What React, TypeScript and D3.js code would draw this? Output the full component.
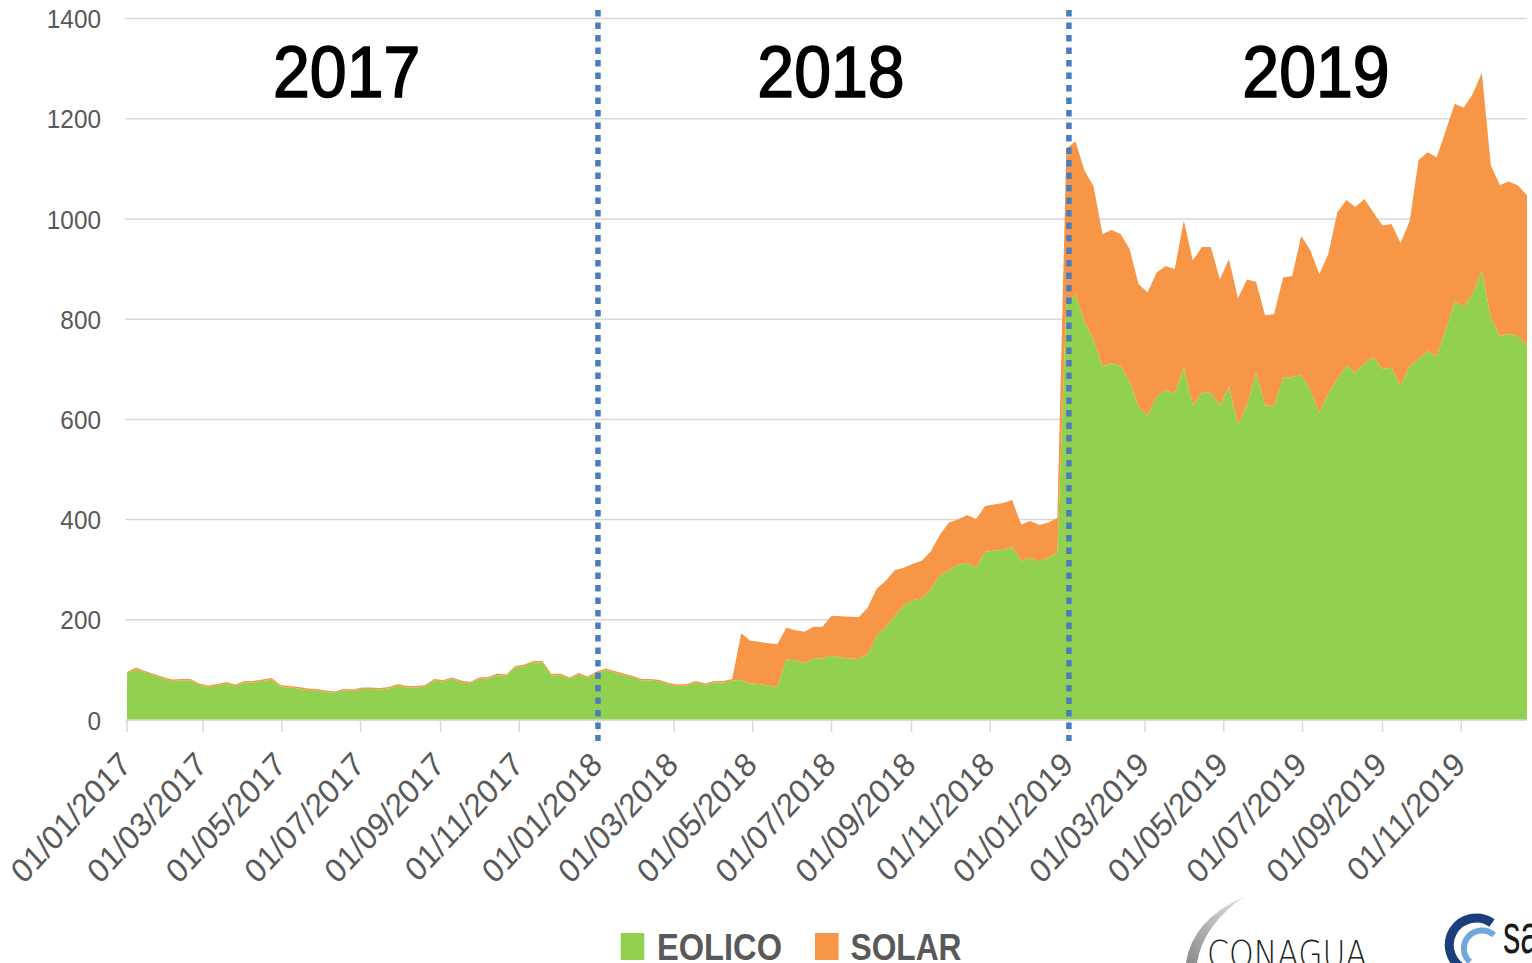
import React from "react";
import * as d3 from "d3";

// Weekly series starting on this date
const START_DATE = new Date(2017, 0, 1);

const EOLICO = [
  93, 102, 95, 89, 83, 78, 79, 79, 70, 66,
  69, 73, 68, 75, 75, 78, 81, 67, 65, 63,
  60, 59, 56, 54, 59, 58, 62, 62, 61, 63,
  69, 65, 65, 67, 79, 77, 82, 76, 73, 82,
  83, 90, 88, 105, 108, 115, 115, 89, 90, 82,
  91, 84, 94, 100, 95, 90, 85, 79, 79, 77,
  71, 68, 69, 75, 70, 75, 75, 79, 80, 73,
  72, 69, 66, 122, 119, 114, 124, 123, 128, 125,
  123, 122, 131, 168, 185, 208, 229, 239, 243, 261,
  289, 299, 310, 314, 305, 336, 338, 340, 346, 317,
  324, 317, 324, 336, 830, 850, 795, 760, 706, 712,
  706, 676, 625, 608, 646, 658, 652, 704, 628, 653,
  653, 628, 666, 590, 628, 692, 628, 627, 683, 684,
  689, 659, 613, 652, 680, 707, 694, 712, 724, 701,
  703, 667, 706, 721, 736, 726, 780, 835, 825, 852,
  897, 804, 766, 771, 766, 748,
];

const SOLAR = [
  3, 3, 3, 3, 3, 3, 3, 3, 3, 3,
  3, 3, 3, 3, 3, 3, 3, 3, 3, 3,
  3, 3, 3, 3, 3, 3, 3, 3, 3, 3,
  3, 3, 3, 3, 3, 3, 3, 3, 3, 3,
  3, 3, 3, 3, 3, 3, 3, 3, 3, 3,
  3, 3, 3, 3, 3, 3, 3, 3, 3, 3,
  3, 3, 3, 3, 3, 3, 3, 3, 93, 85,
  84, 84, 85, 62, 60, 62, 62, 63, 80, 82,
  83, 83, 93, 94, 93, 91, 75, 73, 75, 76,
  81, 95, 90, 95, 96, 91, 92, 93, 93, 73,
  73, 72, 70, 67, 310, 305, 302, 306, 264, 266,
  264, 264, 245, 246, 247, 248, 248, 293, 289, 291,
  291, 251, 254, 252, 251, 183, 180, 183, 200, 202,
  277, 279, 277, 278, 333, 331, 330, 328, 289, 286,
  287, 285, 289, 397, 397, 397, 396, 395, 397, 398,
  395, 303, 302, 304, 301, 299,
];

const SERIES_NAMES = ["EOLICO", "SOLAR"];
const SERIES_COLORS = ["#92D050", "#F79646"];
const Y_TICKS = [0, 200, 400, 600, 800, 1000, 1200, 1400];
const YEAR_TITLES = ["2017", "2018", "2019"];
const DIVIDER_DATES = [new Date(2018, 0, 1), new Date(2019, 0, 1)];

const FONT = "'Liberation Sans', Arial, sans-serif";
const SQ = 0.92;

export default function App() {
  const W = 1532;
  const H = 963;
  const dates = EOLICO.map((_, i) => d3.timeDay.offset(START_DATE, 7 * i));
  const last = dates[dates.length - 1];
  const x = d3.scaleTime().domain([START_DATE, last]).range([127, 1527]);
  const y = d3.scaleLinear().domain([0, 1400]).range([720, 18.6]);

  const rows = dates.map((d, i) => ({ date: d, EOLICO: EOLICO[i], SOLAR: SOLAR[i] }));
  const stacked = d3.stack<any>().keys(SERIES_NAMES)(rows);
  const area = d3
    .area<any>()
    .x((d) => x(d.data.date))
    .y0((d) => y(d[0]))
    .y1((d) => y(d[1]))
    .curve(d3.curveLinear);

  const xTicks = d3.timeMonth.every(2)!.range(START_DATE, last);
  const fmt = d3.timeFormat("%d/%m/%Y");
  const titleX = [346.7, 831, 1316];

  return (
    <svg
      width={W}
      height={H}
      style={{ position: "absolute", left: 0, top: 0, background: "#fff" }}
      fontFamily={FONT}
    >
      <rect x={0} y={0} width={W} height={H} fill="#fff" />
      {/* gridlines */}
      {Y_TICKS.map((t) => (
        <line key={"g" + t} x1={125} x2={1527} y1={y(t)} y2={y(t)} stroke="#d9d9d9" strokeWidth={1.5} />
      ))}
      {/* y labels */}
      {Y_TICKS.map((t) => (
        <g key={"yl" + t} transform={`translate(101,${y(t)}) scale(${SQ},1)`}>
          <text textAnchor="end" dy="0.36em" fontSize={26.5} fill="#595959">
            {t}
          </text>
        </g>
      ))}
      {/* areas */}
      {stacked.map((s, i) => (
        <path key={s.key} d={area(s as any) || ""} fill={SERIES_COLORS[i]} />
      ))}
      {/* x axis */}
      <line x1={127} x2={1527} y1={720} y2={720} stroke="#d9d9d9" strokeWidth={1.5} />
      {xTicks.map((d, i) => (
        <line key={"t" + i} x1={x(d)} x2={x(d)} y1={720} y2={732} stroke="#d9d9d9" strokeWidth={1.5} />
      ))}
      {xTicks.map((d, i) => (
        <g key={"xl" + i} transform={`translate(${x(d) - 2},${758}) scale(${SQ},1)`}>
          <text transform="rotate(-45)" textAnchor="end" dy="0.36em" fontSize={33.5} fill="#595959">
            {fmt(d)}
          </text>
        </g>
      ))}
      {/* dividers */}
      {DIVIDER_DATES.map((d, i) => (
        <line
          key={"dv" + i}
          x1={x(d)}
          x2={x(d)}
          y1={10}
          y2={741}
          stroke="#4a7ebb"
          strokeWidth={5.5}
          strokeDasharray="6.5 6"
        />
      ))}
      {/* year titles */}
      {YEAR_TITLES.map((t, i) => (
        <g key={"yt" + t} transform={`translate(${titleX[i]},96.7) scale(${SQ},1)`}>
          <text textAnchor="middle" fontSize={72} fill="#000" stroke="#000" strokeWidth={1.6}>
            {t}
          </text>
        </g>
      ))}
      {/* legend */}
      <rect x={620.7} y={933} width={23.6} height={27} fill={SERIES_COLORS[0]} />
      <text x={657} y={959.5} fontSize={37} fontWeight="bold" fill="#595959" textLength={125} lengthAdjust="spacingAndGlyphs">
        {SERIES_NAMES[0]}
      </text>
      <rect x={815} y={933} width={23.6} height={27} fill={SERIES_COLORS[1]} />
      <text x={850.5} y={959.5} fontSize={37} fontWeight="bold" fill="#595959" textLength={111} lengthAdjust="spacingAndGlyphs">
        {SERIES_NAMES[1]}
      </text>
      {/* CONAGUA logo */}
      <defs>
        <linearGradient id="swoosh" x1="0" y1="1" x2="1" y2="0">
          <stop offset="0" stopColor="#8a8a8a" />
          <stop offset="1" stopColor="#e6e6e6" />
        </linearGradient>
      </defs>
      <path d="M1186,963 Q1192,920 1245,896 Q1203,925 1197,963 Z" fill="url(#swoosh)" />
      <text
        x={1207}
        y={967}
        fontFamily="'DejaVu Sans', sans-serif"
        fontWeight={200}
        fontSize={38}
        fill="#222"
        textLength={160}
        lengthAdjust="spacingAndGlyphs"
      >
        CONAGUA
      </text>
      {/* second logo */}
      <path d="M1492,923 A27,27 0 1,0 1464,969" fill="none" stroke="#1c3f7c" strokeWidth={9} />
      <path d="M1494,935 A18,18 0 1,0 1470,962" fill="none" stroke="#6fa8dc" strokeWidth={6} />
      <g transform="translate(1503,953) scale(0.62,1)">
        <text fontSize={56} fill="#1a1a1a">
          sa
        </text>
      </g>
    </svg>
  );
}
